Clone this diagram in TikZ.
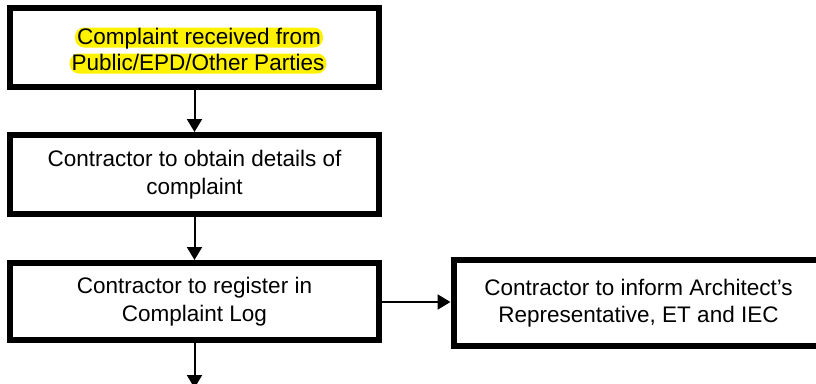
\documentclass[tikz,border=0pt]{standalone}
\usepackage{fontspec}
\setmainfont{Liberation Sans}
\usetikzlibrary{arrows.meta, positioning}

\begin{document}
\begin{tikzpicture}[x=1pt, y=-1pt, font=\fontsize{22.5}{27.5}\selectfont,
  stepbox/.style={draw, line width=6pt, minimum width=369pt, minimum height=79pt,
    align=center, inner sep=0pt, execute at begin node={\rule{0pt}{21.5pt}}},
  hilite/.style={fill=yellow, rounded corners=9pt, inner xsep=2pt, inner ysep=0.5pt,
    text height=16pt, text depth=3pt},
  flow/.style={line width=2pt, -{Triangle[width=15pt,length=13pt]}}]
  \useasboundingbox (0,0) rectangle (816,383);

  % main column
  \node[stepbox] (recv) at (194.5,47.5) {};
  \node[hilite] (recvA) at (199,37.5) {Complaint received from\ };
  \node[hilite] (recvB) at (198,63.5) {Public/EPD/Other Parties\ };
  \node[stepbox] (details) at (194.5,174.5) {Contractor to obtain details of\\complaint};
  \node[stepbox, minimum height=77pt] (register) at (194.5,301.5) {Contractor to register in\\Complaint Log};

  % side box
  \node[stepbox, minimum width=370pt, minimum height=86pt] (inform) at (638.5,303)
    {Contractor to inform Architect’s\\Representative, ET and IEC};

  \coordinate (next) at (register.south |- 0,388);

  % arrows
  \draw[flow] (recv) -- (details);
  \draw[flow] (details) -- (register);
  \draw[flow] (register.east |- 0,302) -- (inform.west |- 0,302);
  \draw[flow] (register) -- (next);
\end{tikzpicture}
\end{document}
